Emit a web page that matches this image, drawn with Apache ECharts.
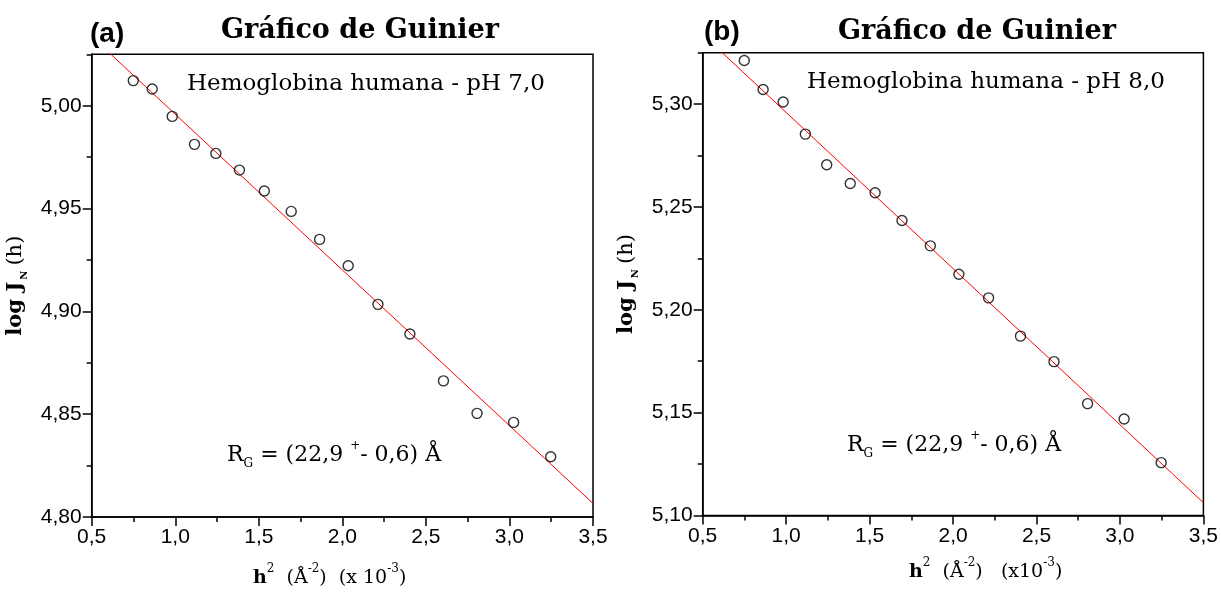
<!DOCTYPE html>
<html>
<head>
<meta charset="utf-8">
<script src="https://cdn.jsdelivr.net/npm/echarts@6/dist/echarts.min.js"></script>
<style>
  html, body { margin: 0; padding: 0; background: #fff; }
  #chart { width: 1221px; height: 594px; }
</style>
</head>
<body>
<div id="chart"></div>
<script>
// h^2 values (Å^-2, x 10^-3), shared by both runs
const h2 = [0.749, 0.862, 0.982, 1.115, 1.243, 1.384, 1.533, 1.694, 1.864, 2.035, 2.213, 2.404, 2.605, 2.806, 3.025, 3.247];
// log J_N(h) for human hemoglobin at pH 7,0 and pH 8,0
const logJ_pH7 = [5.0122, 5.0081, 4.9948, 4.9812, 4.9768, 4.9687, 4.9585, 4.9486, 4.9350, 4.9222, 4.9034, 4.8890, 4.8662, 4.8504, 4.8460, 4.8293];
const logJ_pH8 = [5.3212, 5.3071, 5.3010, 5.2854, 5.2705, 5.2614, 5.2569, 5.2434, 5.2311, 5.2173, 5.2058, 5.1872, 5.1748, 5.1544, 5.1469, 5.1257];
// linear Guinier fits, end points
const fitX = [0.5, 3.5];
const fit_pH7 = [5.0337, 4.8066];
const fit_pH8 = [5.3339, 5.1062];
// axis ranges and ticks
const xRange = [0.5, 3.5];
const yRangeA = [4.80, 5.025];
const yRangeB = [5.10, 5.325];
const yTicksA = [4.80, 4.85, 4.90, 4.95, 5.00];
const yMinorA = [4.825, 4.875, 4.925, 4.975, 5.025];
const yTicksB = [5.10, 5.15, 5.20, 5.25, 5.30];
const yMinorB = [5.125, 5.175, 5.225, 5.275, 5.325];

const SERIF = 'DejaVu Serif';
const SANS = 'Liberation Sans, Arial, sans-serif';
const comma = (v, d) => v.toFixed(d).replace('.', ',');

function pairs(xs, ys) { return xs.map((x, i) => [x, ys[i]]); }

function xAxisFor(gi) {
  return {
    type: 'value', gridIndex: gi, min: xRange[0], max: xRange[1], interval: 0.5,
    axisLine: { show: true, onZero: false, lineStyle: { color: '#000', width: 1.5 } },
    axisTick: { show: true, inside: false, length: 9, lineStyle: { color: '#000', width: 1.5 } },
    minorTick: { show: true, splitNumber: 2, length: 5, lineStyle: { color: '#000', width: 1.5 } },
    splitLine: { show: false }, minorSplitLine: { show: false },
    axisLabel: { show: true, margin: 10, color: '#000', fontFamily: SANS, fontSize: 21,
      showMinLabel: true, showMaxLabel: true, formatter: v => comma(v, 1) }
  };
}

function yAxesFor(gi, range, ticks, minor) {
  const yName = {
    name: '{b|log J}{s|N}{r|(h)}', nameLocation: 'middle', nameRotate: 90, nameGap: 62,
    nameTextStyle: { color: '#000', rich: {
      b: { fontFamily: SERIF, fontWeight: 'bold', fontSize: 21, color: '#000', lineHeight: 28, verticalAlign: 'middle' },
      s: { fontFamily: SERIF, fontWeight: 'bold', fontSize: 10, color: '#000', lineHeight: 10, verticalAlign: 'bottom', padding: [0, 5, 0, 2] },
      r: { fontFamily: SERIF, fontSize: 21, color: '#000', lineHeight: 28, verticalAlign: 'middle' }
    } }
  };
  return [
    Object.assign({
      type: 'value', gridIndex: gi, min: range[0], max: range[1], interval: 0.05, position: 'left',
      axisLine: { show: true, onZero: false, lineStyle: { color: '#000', width: 1.5 } },
      axisTick: { show: true, inside: false, length: 9, customValues: ticks, lineStyle: { color: '#000', width: 1.5 } },
      splitLine: { show: false },
      axisLabel: { show: true, margin: 10, color: '#000', fontFamily: SANS, fontSize: 21,
        customValues: ticks, formatter: v => comma(v, 2) }
    }, yName),
    {
      type: 'value', gridIndex: gi, min: range[0], max: range[1], position: 'left',
      axisLine: { show: false },
      axisTick: { show: true, inside: false, length: 5, customValues: minor, lineStyle: { color: '#000', width: 1.5 } },
      axisLabel: { show: false },
      splitLine: { show: false }
    }
  ];
}

function richSet(size) {
  return {
    m: { fontFamily: SERIF, fontSize: size, color: '#000', lineHeight: 30, verticalAlign: 'middle' },
    mb: { fontFamily: SERIF, fontWeight: 'bold', fontSize: size, color: '#000', lineHeight: 30, verticalAlign: 'middle' },
    sup: { fontFamily: SERIF, fontSize: 12, color: '#000', lineHeight: 12, verticalAlign: 'top' },
    sub: { fontFamily: SERIF, fontSize: 12, color: '#000', lineHeight: 12, verticalAlign: 'bottom' }
  };
}

function label(x, y, text, extra) {
  return { type: 'text', x: x, y: y, silent: true,
    style: Object.assign({ text: text, fill: '#000', verticalAlign: 'middle' }, extra) };
}

const chart = echarts.init(document.getElementById('chart'), null, { renderer: 'canvas' });

const letterFont = 'bold 28px "Liberation Sans Narrow", "Liberation Sans", Arial, sans-serif';
const titleFont = 'bold 27px "DejaVu Serif"';

chart.setOption({
  animation: false,
  backgroundColor: '#fff',
  grid: [
    { left: 91.7, top: 54.3, width: 501.3, height: 462.7, show: true, borderColor: '#000', borderWidth: 1.5, backgroundColor: 'transparent' },
    { left: 702.7, top: 52.7, width: 501.6, height: 462.8, show: true, borderColor: '#000', borderWidth: 1.5, backgroundColor: 'transparent' }
  ],
  xAxis: [xAxisFor(0), xAxisFor(1)],
  yAxis: yAxesFor(0, yRangeA, yTicksA, yMinorA).concat(yAxesFor(1, yRangeB, yTicksB, yMinorB)),
  series: [
    { type: 'line', xAxisIndex: 0, yAxisIndex: 0, data: pairs(fitX, fit_pH7), showSymbol: false, clip: true,
      lineStyle: { color: '#ff0000', width: 1 }, z: 2 },
    { type: 'scatter', xAxisIndex: 0, yAxisIndex: 0, data: pairs(h2, logJ_pH7), symbol: 'circle', symbolSize: 10,
      itemStyle: { color: 'rgba(0,0,0,0)', borderColor: '#000', borderWidth: 1.4 }, z: 3 },
    { type: 'line', xAxisIndex: 1, yAxisIndex: 2, data: pairs(fitX, fit_pH8), showSymbol: false, clip: true,
      lineStyle: { color: '#ff0000', width: 1 }, z: 2 },
    { type: 'scatter', xAxisIndex: 1, yAxisIndex: 2, data: pairs(h2, logJ_pH8), symbol: 'circle', symbolSize: 10,
      itemStyle: { color: 'rgba(0,0,0,0)', borderColor: '#000', borderWidth: 1.4 }, z: 3 }
  ],
  graphic: [
    // panel letters and titles
    label(90, 34, '(a)', { font: letterFont }),
    label(360, 31, 'Gráfico de Guinier', { font: titleFont, align: 'center' }),
    label(704, 32, '(b)', { font: letterFont }),
    label(977, 32, 'Gráfico de Guinier', { font: titleFont, align: 'center' }),
    // sample descriptions
    label(187, 84, 'Hemoglobina humana - pH 7,0', { font: '23px "DejaVu Serif"' }),
    label(807, 82, 'Hemoglobina humana - pH 8,0', { font: '23px "DejaVu Serif"' }),
    // radius of gyration
    label(227, 455, '{m|R}{sub|G}{m| = (22,9 }{sup|+}{m|- 0,6) Å}', { rich: richSet(22) }),
    label(847, 445, '{m|R}{sub|G}{m| = (22,9 }{sup|+}{m|- 0,6) Å}', { rich: richSet(22) }),
    // x axis titles
    label(253, 578, '{mb|h}{sup|2}{m|  (Å}{sup|-2}{m|)  (x 10}{sup|-3}{m|)}', { rich: richSet(19) }),
    label(909, 572, '{mb|h}{sup|2}{m|  (Å}{sup|-2}{m|)   (x10}{sup|-3}{m|)}', { rich: richSet(19) })
  ]
});
</script>
</body>
</html>
